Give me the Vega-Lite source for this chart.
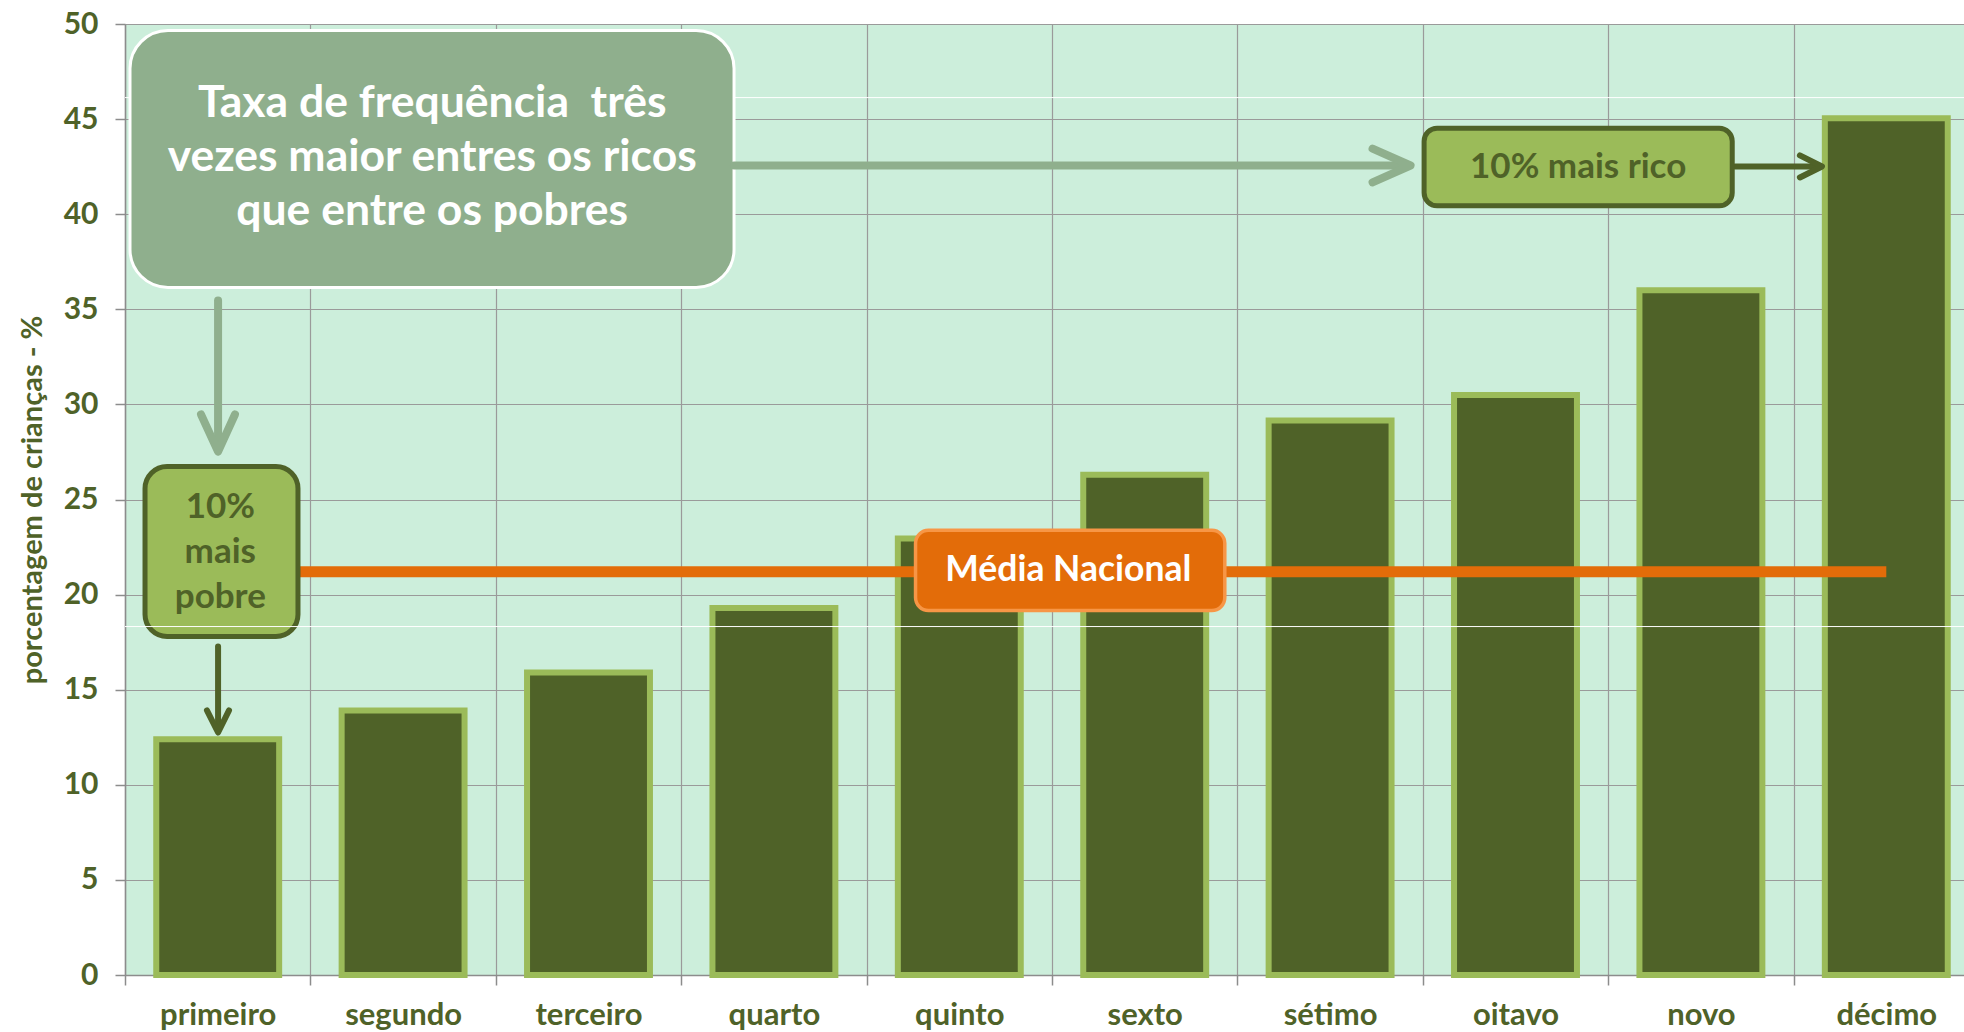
{
  "$schema": "https://vega.github.io/schema/vega-lite/v6.json",
  "width": 1839,
  "height": 951,
  "autosize": {"type": "none"},
  "padding": {"left": 125, "top": 24, "right": 0, "bottom": 57},
  "background": "#ffffff",
  "config": {
    "view": {"fill": "#CCEEDB", "stroke": null},
    "font": "Lato",
    "axis": {
      "gridColor": "#9A9A9A", "gridWidth": 1.2,
      "domainColor": "#8C8C8C", "domainWidth": 1.5,
      "tickColor": "#8C8C8C", "tickWidth": 1.5,
      "labelFont": "Lato", "labelFontWeight": "bold", "labelColor": "#4F6228",
      "titleFont": "Lato", "titleFontWeight": "bold", "titleColor": "#4F6228"
    }
  },
  "datasets": {
    "decis": [
      {"decil": "primeiro", "pct": 12.4},
      {"decil": "segundo", "pct": 13.9},
      {"decil": "terceiro", "pct": 15.9},
      {"decil": "quarto", "pct": 19.3},
      {"decil": "quinto", "pct": 22.95},
      {"decil": "sexto", "pct": 26.3},
      {"decil": "sétimo", "pct": 29.15},
      {"decil": "oitavo", "pct": 30.5},
      {"decil": "novo", "pct": 36.0},
      {"decil": "décimo", "pct": 45.05}
    ],
    "media": [
      {"decil": "primeiro", "media": 21.2},
      {"decil": "décimo", "media": 21.2}
    ],
    "setas": [
      {"seta": "h1", "tom": "claro", "ordem": 1, "x": 3.285, "y": 42.56},
      {"seta": "h1", "tom": "claro", "ordem": 2, "x": 6.92, "y": 42.56},
      {"seta": "h2", "tom": "claro", "ordem": 1, "x": 6.729, "y": 43.45},
      {"seta": "h2", "tom": "claro", "ordem": 2, "x": 6.934, "y": 42.56},
      {"seta": "h2", "tom": "claro", "ordem": 3, "x": 6.729, "y": 41.67},
      {"seta": "v1", "tom": "claro", "ordem": 1, "x": 0.502, "y": 35.46},
      {"seta": "v1", "tom": "claro", "ordem": 2, "x": 0.502, "y": 27.7},
      {"seta": "v2", "tom": "claro", "ordem": 1, "x": 0.41, "y": 29.47},
      {"seta": "v2", "tom": "claro", "ordem": 2, "x": 0.502, "y": 27.52},
      {"seta": "v2", "tom": "claro", "ordem": 3, "x": 0.593, "y": 29.47},
      {"seta": "d1", "tom": "escuro", "ordem": 1, "x": 8.684, "y": 42.51},
      {"seta": "d1", "tom": "escuro", "ordem": 2, "x": 9.14, "y": 42.51},
      {"seta": "d2", "tom": "escuro", "ordem": 1, "x": 9.034, "y": 43.09},
      {"seta": "d2", "tom": "escuro", "ordem": 2, "x": 9.153, "y": 42.51},
      {"seta": "d2", "tom": "escuro", "ordem": 3, "x": 9.034, "y": 41.93},
      {"seta": "e1", "tom": "escuro", "ordem": 1, "x": 0.502, "y": 17.27},
      {"seta": "e1", "tom": "escuro", "ordem": 2, "x": 0.502, "y": 12.85},
      {"seta": "e2", "tom": "escuro", "ordem": 1, "x": 0.442, "y": 13.91},
      {"seta": "e2", "tom": "escuro", "ordem": 2, "x": 0.502, "y": 12.75},
      {"seta": "e2", "tom": "escuro", "ordem": 3, "x": 0.561, "y": 13.91}
    ]
  },
  "layer": [
    {
      "layer": [
        {
          "data": {"name": "decis"},
          "mark": {"type": "bar", "fill": "#4F6228", "stroke": "#9BBB59", "strokeWidth": 6, "width": {"band": 0.663}},
          "encoding": {
            "x": {
              "field": "decil", "type": "nominal", "sort": null,
              "scale": {"domain": ["primeiro", "segundo", "terceiro", "quarto", "quinto", "sexto", "sétimo", "oitavo", "novo", "décimo"], "range": [0, 1854], "paddingInner": 0, "paddingOuter": 0},
              "axis": {"title": null, "tickBand": "extent", "grid": true, "tickSize": 10, "labelPadding": 15, "labelFontSize": 31, "labelAngle": 0}
            },
            "y": {
              "field": "pct", "type": "quantitative",
              "scale": {"domain": [0, 50], "nice": false},
              "axis": {"title": "porcentagem de crianças - %", "values": [0, 5, 10, 15, 20, 25, 30, 35, 40, 45, 50], "grid": true, "tickSize": 10, "labelPadding": 17, "labelFontSize": 30, "titleFontSize": 29, "titlePadding": 16}
            }
          }
        },
        {
          "data": {"name": "media"},
          "mark": {"type": "line", "color": "#E36C09", "strokeWidth": 11},
          "encoding": {
            "x": {"field": "decil", "type": "nominal", "sort": null},
            "y": {"field": "media", "type": "quantitative"}
          }
        }
      ]
    },
    {
      "layer": [
        {
          "data": {"values": [{}]},
          "mark": {"type": "rule", "color": "#ffffff", "strokeWidth": 1},
          "encoding": {"y": {"datum": 46.13}}
        },
        {
          "data": {"values": [{}]},
          "mark": {"type": "rect", "fill": "#8FAF8D", "stroke": "#ffffff", "strokeWidth": 3, "cornerRadius": 38},
          "encoding": {
            "x": {"datum": 0.027, "type": "quantitative", "scale": {"domain": [0, 10], "range": [0, 1854]}, "axis": null},
            "x2": {"datum": 3.285},
            "y": {"datum": 49.66},
            "y2": {"datum": 36.15}
          }
        },
        {
          "data": {"values": [{}]},
          "mark": {"type": "text", "text": ["Taxa de frequência\u00a0 três", "vezes maior entres os ricos", "que entre os pobres"], "font": "Lato", "fontWeight": "bold", "fontSize": 44.5, "lineHeight": 54, "color": "#ffffff", "align": "center", "baseline": "middle"},
          "encoding": {
            "x": {"datum": 1.657, "type": "quantitative", "scale": {"domain": [0, 10], "range": [0, 1854]}, "axis": null},
            "y": {"datum": 45.77}
          }
        },
        {
          "data": {"name": "setas"},
          "transform": [{"filter": "datum.tom === 'claro'"}],
          "mark": {"type": "line", "color": "#8FAF8D", "strokeWidth": 8, "strokeCap": "round", "strokeJoin": "round"},
          "encoding": {
            "x": {"field": "x", "type": "quantitative", "scale": {"domain": [0, 10], "range": [0, 1854]}, "axis": null},
            "y": {"field": "y", "type": "quantitative"},
            "detail": {"field": "seta"},
            "order": {"field": "ordem"}
          }
        },
        {
          "data": {"name": "setas"},
          "transform": [{"filter": "datum.tom === 'escuro'"}],
          "mark": {"type": "line", "color": "#4F6228", "strokeWidth": 6, "strokeCap": "round", "strokeJoin": "round"},
          "encoding": {
            "x": {"field": "x", "type": "quantitative", "scale": {"domain": [0, 10], "range": [0, 1854]}, "axis": null},
            "y": {"field": "y", "type": "quantitative"},
            "detail": {"field": "seta"},
            "order": {"field": "ordem"}
          }
        },
        {
          "data": {"values": [{}]},
          "mark": {"type": "rect", "fill": "#9BBB59", "stroke": "#4F6228", "strokeWidth": 5, "cornerRadius": 22},
          "encoding": {
            "x": {"datum": 0.108, "type": "quantitative", "scale": {"domain": [0, 10], "range": [0, 1854]}, "axis": null},
            "x2": {"datum": 0.933},
            "y": {"datum": 26.73},
            "y2": {"datum": 17.8}
          }
        },
        {
          "data": {"values": [{}]},
          "mark": {"type": "text", "text": ["10%", "mais", "pobre"], "font": "Lato", "fontWeight": "bold", "fontSize": 35, "lineHeight": 45, "color": "#4F6228", "align": "center", "baseline": "middle"},
          "encoding": {
            "x": {"datum": 0.514, "type": "quantitative", "scale": {"domain": [0, 10], "range": [0, 1854]}, "axis": null},
            "y": {"datum": 24.63}
          }
        },
        {
          "data": {"values": [{}]},
          "mark": {"type": "rect", "fill": "#9BBB59", "stroke": "#4F6228", "strokeWidth": 5, "cornerRadius": 13},
          "encoding": {
            "x": {"datum": 7.007, "type": "quantitative", "scale": {"domain": [0, 10], "range": [0, 1854]}, "axis": null},
            "x2": {"datum": 8.669},
            "y": {"datum": 44.52},
            "y2": {"datum": 40.44}
          }
        },
        {
          "data": {"values": [{}]},
          "mark": {"type": "text", "text": "10% mais rico", "font": "Lato", "fontWeight": "bold", "fontSize": 35, "color": "#4F6228", "align": "center", "baseline": "middle"},
          "encoding": {
            "x": {"datum": 7.838, "type": "quantitative", "scale": {"domain": [0, 10], "range": [0, 1854]}, "axis": null},
            "y": {"datum": 42.48}
          }
        },
        {
          "data": {"values": [{}]},
          "mark": {"type": "rect", "fill": "#E36C09", "stroke": "#F79646", "strokeWidth": 3.5, "cornerRadius": 13},
          "encoding": {
            "x": {"datum": 4.264, "type": "quantitative", "scale": {"domain": [0, 10], "range": [0, 1854]}, "axis": null},
            "x2": {"datum": 5.932},
            "y": {"datum": 23.38},
            "y2": {"datum": 19.16}
          }
        },
        {
          "data": {"values": [{}]},
          "mark": {"type": "text", "text": "Média Nacional", "font": "Lato", "fontWeight": "bold", "fontSize": 35.5, "color": "#ffffff", "align": "center", "baseline": "middle"},
          "encoding": {
            "x": {"datum": 5.088, "type": "quantitative", "scale": {"domain": [0, 10], "range": [0, 1854]}, "axis": null},
            "y": {"datum": 21.28}
          }
        },
        {
          "data": {"values": [{}]},
          "mark": {"type": "rule", "color": "#ffffff", "strokeWidth": 1},
          "encoding": {"y": {"datum": 18.32}}
        }
      ]
    }
  ],
  "resolve": {"scale": {"x": "independent"}}
}
